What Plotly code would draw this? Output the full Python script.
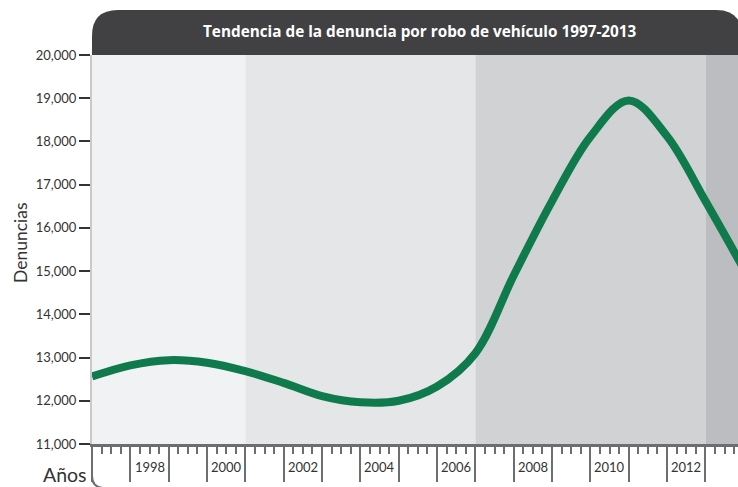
import plotly.graph_objects as go

# ---- data ----
years = [1997, 1998, 1999, 2000, 2001, 2002, 2003, 2004, 2005, 2006,
         2007, 2008, 2009, 2010, 2011, 2012, 2013, 2014]
denuncias = [12560, 12820, 12940, 12880, 12685, 12415, 12110, 11965, 12000, 12330,
             13100, 14900, 16620, 18110, 18950, 18120, 16620, 15050]

band_starts = [1997, 2001, 2007, 2013]
band_ends = [2001, 2007, 2013, 2015]
band_colors = ["#f1f2f4", "#e5e6e8", "#d1d2d4", "#bcbdc0"]

x_label_years = [1998, 2000, 2002, 2004, 2006, 2008, 2010, 2012]
y_ticks = [11000, 12000, 13000, 14000, 15000, 16000, 17000, 18000, 19000, 20000]

title_text = "Tendencia de la denuncia por robo de vehículo 1997-2013"
FONT = "Lato, 'Open Sans', sans-serif"
TITLE_FONT = "'Open Sans', Lato, sans-serif"
AXIS_GRAY = "#6d6e71"

# ---- geometry (px) ----
W, H = 738, 487
ML, MT, MB, MR = 92, 55, 43, 0
PW, PH = W - ML - MR, H - MT - MB

def py(px_from_plot_bottom):
    return px_from_plot_bottom / PH

def pxx(px):
    return px / PW

fig = go.Figure()

fig.add_trace(go.Scatter(
    x=years, y=denuncias, mode="lines",
    line=dict(color="#0f7a4b", width=8, shape="spline", smoothing=1.0),
    hoverinfo="x+y", showlegend=False,
))

shapes = []
for s, e, c in zip(band_starts, band_ends, band_colors):
    shapes.append(dict(type="rect", xref="x", yref="paper", x0=s, x1=e, y0=0, y1=1,
                       fillcolor=c, line=dict(width=0), layer="below"))

# title bar with rounded top corners
top = 1 + py(45)
rx, ry = pxx(26), py(26)
xr = 1 + pxx(4)
path = (f"M 0,1 L 0,{top - ry} Q 0,{top} {rx},{top} L {xr - rx},{top} "
        f"Q {xr},{top} {xr},{top - ry} L {xr},1 Z")
shapes.append(dict(type="path", xref="paper", yref="paper", path=path,
                   fillcolor="#414042", line=dict(width=0)))

# bottom-left rounded bracket
bpath = f"M 0,0 L 0,{-py(32)} Q 0,{-py(43)} {pxx(11)},{-py(44)}"
shapes.append(dict(type="path", xref="paper", yref="paper", path=bpath,
                   line=dict(color=AXIS_GRAY, width=2)))

annotations = [
    dict(text=f"<b>{title_text}</b>", xref="paper", yref="paper",
         x=(420 - ML) / PW, y=1 + py(24), xanchor="center", yanchor="middle",
         showarrow=False, font=dict(family=TITLE_FONT, size=15.3, color="white")),
    dict(text="Denuncias", xref="paper", yref="paper", textangle=-90,
         x=(20 - ML) / PW, y=(444 - 243) / PH, xanchor="center", yanchor="middle",
         showarrow=False, font=dict(family=FONT, size=17.5, color="#333333")),
    dict(text="Años", xref="paper", yref="paper",
         x=(89 - ML) / PW, y=-py(474 - 444), xanchor="right", yanchor="middle",
         showarrow=False, font=dict(family=FONT, size=19.5, color="#333333")),
]
for yr in x_label_years:
    annotations.append(dict(text=str(yr), xref="x", yref="paper",
                            x=yr + 0.5, y=-py(467 - 444), xanchor="center", yanchor="middle",
                            showarrow=False, font=dict(family=FONT, size=13, color="#333333")))

fig.update_layout(
    width=W, height=H,
    margin=dict(l=ML, r=MR, t=MT, b=MB),
    paper_bgcolor="white", plot_bgcolor="white",
    shapes=shapes, annotations=annotations,
    xaxis=dict(range=[1997, 2013.85], showgrid=False, zeroline=False,
               tickmode="linear", tick0=1997, dtick=1,
               ticks="outside", ticklen=35, tickwidth=2, tickcolor=AXIS_GRAY,
               showticklabels=False,
               showline=True, linecolor=AXIS_GRAY, linewidth=3,
               minor=dict(dtick=0.25, tick0=1997, ticks="outside", ticklen=7,
                          tickwidth=1.5, tickcolor=AXIS_GRAY, showgrid=False)),
    yaxis=dict(range=[11000, 20000], showgrid=False, zeroline=False,
               tickmode="array", tickvals=y_ticks, tickformat=",",
               ticks="outside", ticklen=11, tickwidth=1.5, tickcolor="#333333",
               tickfont=dict(family=FONT, size=13, color="#333333"),
               showline=True, linecolor="#c8c9cb", linewidth=2),
)

fig.write_html("out.html", config={"displayModeBar": False},
               post_script="document.body.style.margin='0px';")
